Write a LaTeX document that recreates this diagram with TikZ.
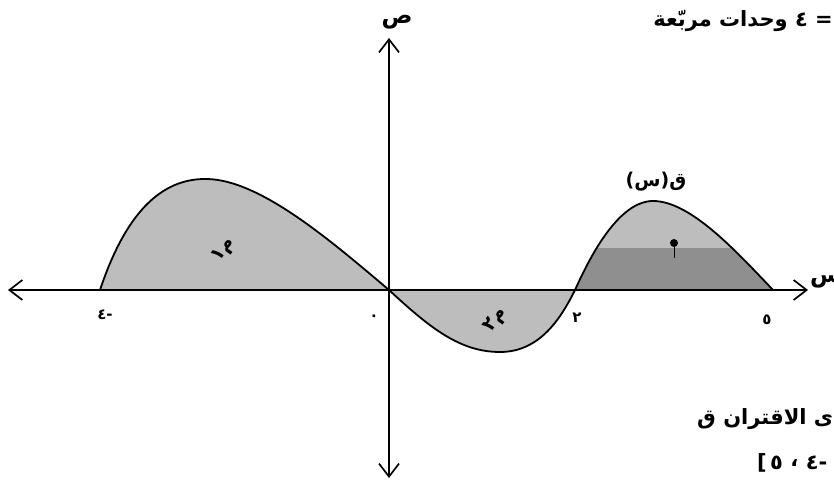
\documentclass[tikz,border=0pt]{standalone}
\usepackage{fontspec}
\usetikzlibrary{arrows.meta,positioning}
\TeXXeTstate=1
\newfontfamily\arabicfont[Script=Arabic]{DejaVu Sans}
\definecolor{shadeA}{gray}{0.74}
\definecolor{shadeB}{gray}{0.56}
\tikzset{
  axis/.style={line width=1.7pt, black, {Straight Barb[length=13pt,width=20pt,line width=1.7pt]}-{Straight Barb[length=13pt,width=20pt,line width=1.7pt]}},
  curve/.style={line width=1.8pt, black},
  lab/.style={font=\arabicfont\bfseries\fontsize{15}{18}\selectfont, inner sep=0pt},
  txt/.style={font=\arabicfont\bfseries\fontsize{19}{22}\selectfont, inner sep=0pt},
  side/.style={font=\arabicfont\bfseries\fontsize{21}{24}\selectfont, inner sep=0pt},
  big/.style={font=\arabicfont\bfseries\fontsize{23}{26}\selectfont, inner sep=0pt},
  reg/.style={font=\arabicfont\bfseries\fontsize{19}{22}\selectfont, inner sep=0pt}
}
\begin{document}
\begin{tikzpicture}[x=1pt,y=-1pt]
\useasboundingbox[fill=white] (0,0) rectangle (834,486);
% regions
\fill[shadeA] (100,290) .. controls (125,215) and (160,178) .. (207,179)
   .. controls (260,180) and (330,240) .. (389,290) -- cycle;
\fill[shadeA] (389,290) .. controls (430,328) and (460,352) .. (500,352)
   .. controls (540,352) and (561,318) .. (575,290) -- cycle;
\fill[shadeA] (575,290) .. controls (592,252) and (620,201) .. (653,201)
   .. controls (690,201) and (735,250) .. (773,290) -- cycle;
\begin{scope}
\clip (560,248) rectangle (790,290);
\fill[shadeB] (575,290) .. controls (592,252) and (620,201) .. (653,201)
   .. controls (690,201) and (735,250) .. (773,290) -- cycle;
\end{scope}
% axes
\coordinate (xl) at (8,290);
\coordinate (xr) at (808,290);
\coordinate (yt) at (389,38);
\coordinate (yb) at (389,478);
\draw[axis] (xl) -- (xr);
\draw[axis] (yb) -- (yt);
% curve
\draw[curve] (100,290) .. controls (125,215) and (160,178) .. (207,179)
   .. controls (260,180) and (330,240) .. (389,290)
   .. controls (430,328) and (460,352) .. (500,352)
   .. controls (540,352) and (561,318) .. (575,290)
   .. controls (592,252) and (620,201) .. (653,201)
   .. controls (690,201) and (735,250) .. (773,290);
% axis labels
\node[big] (ylab) at (397,22) {ص};
\node[big, anchor=west] (xlab) at (810,281) {س};
\node[lab] (tm4) at (105,315) {\beginR -٤\endR};
\node[lab] (t0) at (374,318) {٠};
\node[lab] (t2) at (577,318) {٢};
\node[lab] (t5) at (767,320) {٥};
\node[txt] (fq) at (656,182) {\beginR ق(س)\endR};
% region labels
\node[reg, rotate=55] (m1) at (224,250) {\beginR م١\endR};
\node[reg, rotate=55] (m2) at (496,320) {\beginR م٢\endR};
\fill (674,243) circle (4);
\draw[line width=1pt] (674,243) -- (674,258);
% texts at right
\node[side, anchor=east] (top) at (833,21) {\beginR = ٤ وحدات مربّعة\endR};
\node[side, anchor=west] (l1) at (697,419) {\beginR ى الاقتران ق\endR};
\node[side, anchor=west] (b1) at (757,463) {]};
\node[side, right=3pt of b1] (b2) {٥};
\node[side, right=7pt of b2] (b3) {،};
\node[side, right=7pt of b3, anchor=west] (b4) {\beginR -٤\endR};
\end{tikzpicture}
\end{document}
